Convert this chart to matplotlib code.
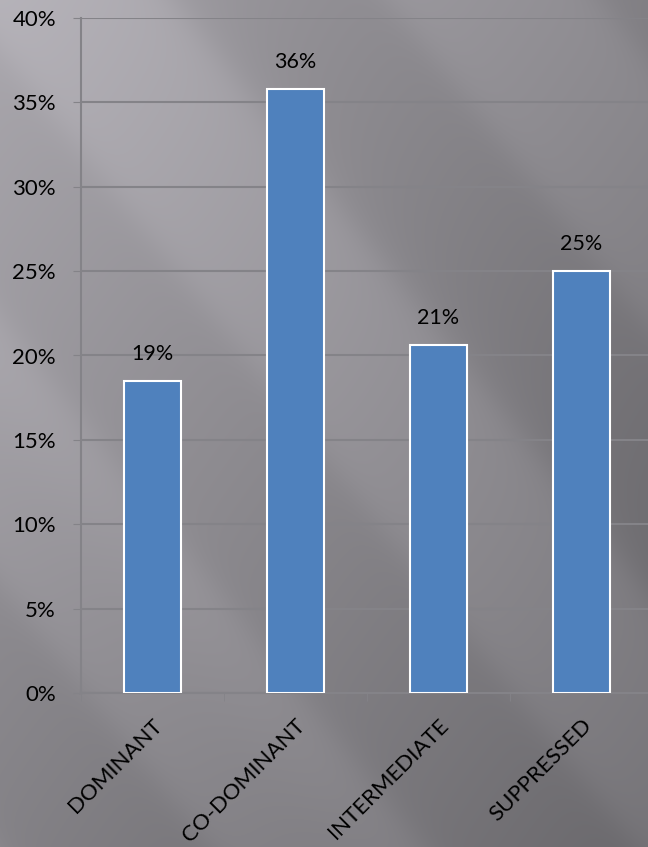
import numpy as np
import matplotlib
matplotlib.use("Agg")
import matplotlib.pyplot as plt

categories = ["DOMINANT", "CO-DOMINANT", "INTERMEDIATE", "SUPPRESSED"]
shares = [18.5, 35.8, 20.6, 25.0]
share_labels = ["19%", "36%", "21%", "25%"]
y_ticks = [0, 5, 10, 15, 20, 25, 30, 35, 40]

plt.rcParams['font.family'] = ['Lato', 'DejaVu Sans']

W, H = 648, 847
fig = plt.figure(figsize=(W / 100, H / 100), dpi=100)

# gray backdrop, lighter top-left, with soft diagonal streaks
bg = fig.add_axes([0, 0, 1, 1], zorder=0)
yy, xx = np.mgrid[0:H, 0:W]
base = 0.68 - 0.13 * (xx / W) - 0.12 * (yy / H)
u = (xx - 0.8 * yy) / (W + H)
streak = 0.025 * np.tanh(3 * np.sin(u * 22 + 0.6)) + 0.015 * np.tanh(3 * np.sin(u * 9 + 2.0))
shade = np.clip(base + streak, 0, 1)
img = np.dstack([shade * 0.99, shade * 0.975, shade * 1.01])
bg.imshow(np.clip(img, 0, 1), aspect='auto', extent=[0, 1, 0, 1])
bg.axis('off')

left = 81 / W
right = 653 / W
bottom = 1 - 693 / H
top = 1 - 18 / H
ax = fig.add_axes([left, bottom, right - left, top - bottom], zorder=1)
ax.patch.set_alpha(0)

x = np.arange(len(categories))
ax.bar(x, shares, width=0.4, color='#4F81BD', edgecolor='white', linewidth=1.5, zorder=3)
for xi, v, lab in zip(x, shares, share_labels):
    ax.text(xi, v + 1.0, lab, ha='center', va='bottom', fontsize=15.5, color='black')

ax.set_xlim(-0.5, len(categories) - 0.5)
ax.set_ylim(0, 40)
ax.set_yticks(y_ticks)
ax.set_yticklabels([f"{t}%" for t in y_ticks], fontsize=16)
ax.yaxis.grid(True, color='#848388', linewidth=1.5, zorder=0)

ax.set_xticks(x)
ax.set_xticklabels(categories, rotation=45, ha='right', rotation_mode='anchor', fontsize=16)
ax.tick_params(axis='x', length=0, pad=16)
ax.set_xticks(np.arange(len(categories) + 1) - 0.5, minor=True)
ax.tick_params(axis='x', which='minor', length=6, color='#848388')
ax.tick_params(axis='y', length=6, color='#848388', pad=12)

for s in ['top', 'right']:
    ax.spines[s].set_visible(False)
for s in ['left', 'bottom']:
    ax.spines[s].set_color('#848388')
    ax.spines[s].set_linewidth(1.5)

fig.savefig("out.png", dpi=100)
